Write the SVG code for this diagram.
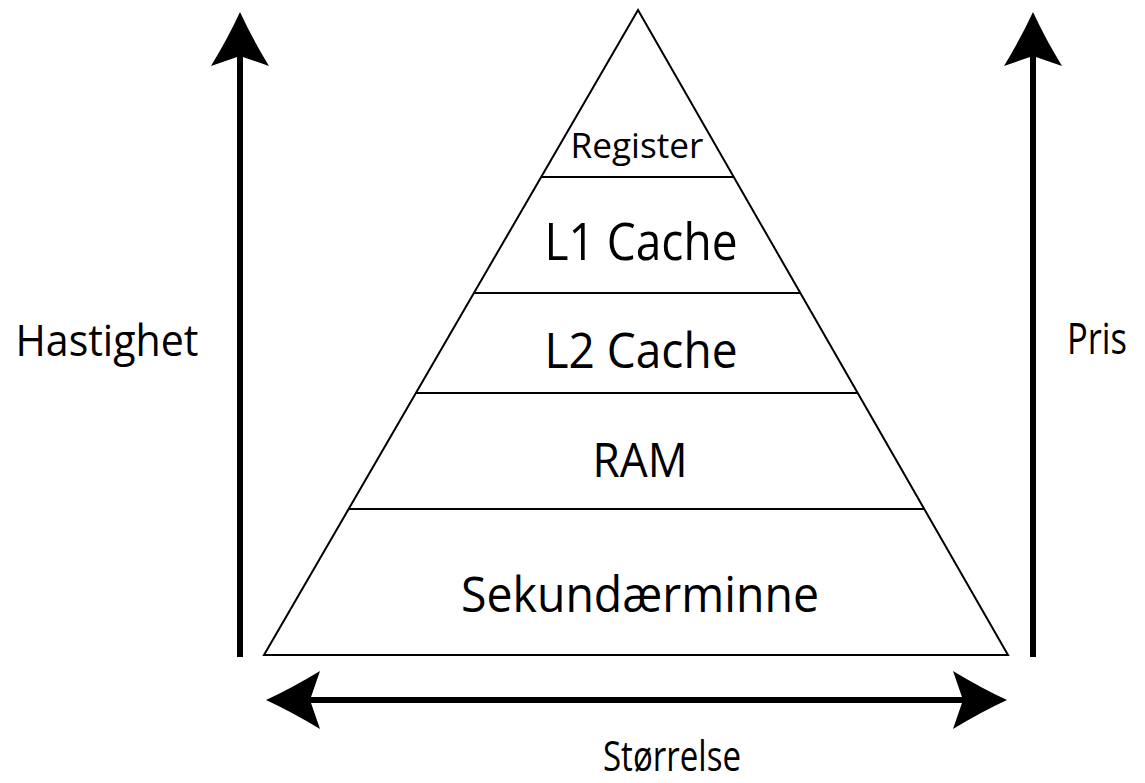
<svg xmlns="http://www.w3.org/2000/svg" width="1145" height="783" viewBox="0 0 1145 783">
<style>
.tier{fill:none;stroke:#000;stroke-width:2}
.lbl{font-family:"Open Sans","Noto Sans","Liberation Sans",sans-serif;fill:#000;text-anchor:middle}
.axis{stroke:#000;stroke-width:6;fill:none}
</style>
<defs>
<marker id="head" markerUnits="userSpaceOnUse" viewBox="-12 -31 58 62" refX="0" refY="0" markerWidth="58" markerHeight="62" orient="auto-start-reverse" overflow="visible">
<path d="M44,0 Q18,-12 -10,-29 L0,0 L-10,29 Q18,12 44,0 Z" fill="#000"/>
</marker>
</defs>
<rect width="1145" height="783" fill="#fff"/>
<g id="pyramid">
<polygon class="tier" points="638,10 264,655 1008,655"/>
</g>
<g id="register">
<line class="tier" x1="541.2" y1="177" x2="733.8" y2="177"/>
<text class="lbl" x="637" y="158" font-size="35" textLength="133" lengthAdjust="spacingAndGlyphs">Register</text>
</g>
<g id="l1cache">
<line class="tier" x1="473.9" y1="293" x2="800.3" y2="293"/>
<text class="lbl" x="641" y="260" font-size="51" textLength="193" lengthAdjust="spacingAndGlyphs">L1 Cache</text>
</g>
<g id="l2cache">
<line class="tier" x1="415.9" y1="393" x2="857.7" y2="393"/>
<text class="lbl" x="641" y="368" font-size="49" textLength="193" lengthAdjust="spacingAndGlyphs">L2 Cache</text>
</g>
<g id="ram">
<line class="tier" x1="348.7" y1="509" x2="924.2" y2="509"/>
<text class="lbl" x="640" y="477" font-size="47" textLength="95" lengthAdjust="spacingAndGlyphs">RAM</text>
</g>
<g id="sekundaerminne">
<text class="lbl" x="640" y="612" font-size="49" textLength="358" lengthAdjust="spacingAndGlyphs">Sekundærminne</text>
</g>
<g id="connectors">
<line class="axis" x1="240" y1="657" x2="240" y2="56" marker-end="url(#head)"/>
<line class="axis" x1="1033" y1="657" x2="1033" y2="56" marker-end="url(#head)"/>
<line class="axis" x1="310" y1="700" x2="963" y2="700" marker-start="url(#head)" marker-end="url(#head)"/>
</g>
<g id="hastighet">
<text class="lbl" x="107" y="356" font-size="43" textLength="183" lengthAdjust="spacingAndGlyphs">Hastighet</text>
</g>
<g id="pris">
<text class="lbl" x="1097" y="354" font-size="43" textLength="60" lengthAdjust="spacingAndGlyphs">Pris</text>
</g>
<g id="storrelse">
<text class="lbl" x="672" y="771" font-size="42" textLength="138" lengthAdjust="spacingAndGlyphs">Størrelse</text>
</g>
</svg>
